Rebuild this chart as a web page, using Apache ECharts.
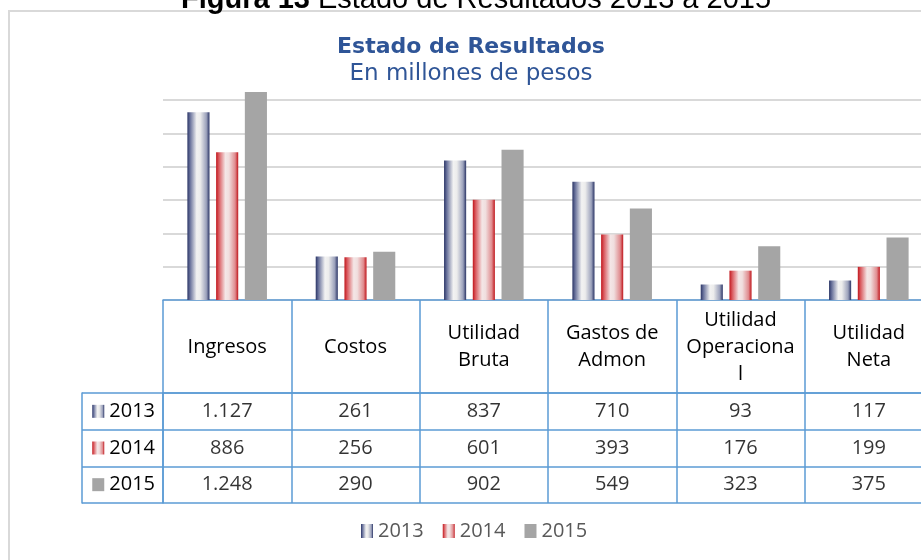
<!DOCTYPE html>
<html>
<head>
<meta charset="utf-8">
<script src="https://cdn.jsdelivr.net/npm/echarts@6/dist/echarts.min.js"></script>
<style>
  html, body { margin: 0; padding: 0; background: #fff; }
  #chart { width: 921px; height: 560px; }
</style>
</head>
<body>
<div id="chart"></div>
<script>
// data (millones de pesos)
const categories = ['Ingresos', 'Costos', 'Utilidad\nBruta', 'Gastos de\nAdmon', 'Utilidad\nOperaciona\nl', 'Utilidad\nNeta']
const years = ['2013', '2014', '2015']
const values2013 = [1127, 261, 837, 710, 93, 117]
const values2014 = [886, 256, 601, 393, 176, 199]
const values2015 = [1248, 290, 902, 549, 323, 375]
const yTicks = [0, 200, 400, 600, 800, 1000, 1200]

const tableBlue = '#5B9BD5'
const font = 'Open Sans'

function grad(stops) {
  return new echarts.graphic.LinearGradient(0, 0, 1, 0,
    stops.map(([offset, color]) => ({ offset, color })))
}

const navy = grad([[0, '#2B3566'], [0.12, '#67709A'], [0.42, '#F2F2F2'], [0.58, '#ECECEC'], [0.86, '#9BA1BB'], [1, '#2B3566']])
const red = grad([[0, '#C0161C'], [0.12, '#D9575C'], [0.42, '#F4E6E6'], [0.58, '#F0DEDE'], [0.86, '#E08C8F'], [1, '#C0161C']])
const gray = '#A5A5A5'
const colors = [navy, red, gray]
const seriesValues = [values2013, values2014, values2015]

// 1127 -> "1.127"
function fmt(v) {
  return v >= 1000 ? Math.floor(v / 1000) + '.' + String(v % 1000).padStart(3, '0') : String(v)
}

const tableCells = []
seriesValues.forEach((vals, r) => {
  vals.forEach((v, c) => tableCells.push([c, r, v]))
})

const chart = echarts.init(document.getElementById('chart'))

const option = {
  animation: false,
  backgroundColor: '#fff',
  graphic: [
    {
      type: 'rect',
      silent: true,
      z: -10,
      shape: { x: 9, y: 11, width: 1000, height: 700 },
      style: { fill: 'none', stroke: '#D9D9D9', lineWidth: 2 },
    },
    {
      type: 'text',
      silent: true,
      x: 476,
      y: 14,
      style: {
        text: '{b|Figura 13} Estado de Resultados 2013 a 2015',
        rich: { b: { fontWeight: 'bold', fontSize: 29, fontFamily: 'Liberation Sans', fill: '#000' } },
        fontSize: 29,
        fontFamily: 'Liberation Sans',
        fill: '#000',
        align: 'center',
        verticalAlign: 'bottom',
      },
    },
  ],
  title: {
    text: 'Estado de Resultados',
    subtext: 'En millones de pesos',
    left: 466,
    top: 31,
    textAlign: 'center',
    itemGap: 5,
    textStyle: { fontFamily: 'DejaVu Sans', fontWeight: 'bold', fontSize: 22, color: '#2F5597' },
    subtextStyle: { fontFamily: 'DejaVu Sans', fontSize: 23, color: '#2F5597' },
  },
  legend: {
    data: years,
    left: 356,
    top: 516,
    icon: 'rect',
    itemWidth: 12,
    itemHeight: 14,
    itemGap: 19,
    selectedMode: false,
    textStyle: { fontFamily: font, fontSize: 20, color: '#595959' },
  },
  grid: [
    { left: 163, top: 100, width: 770, height: 200, outerBoundsMode: 'none' },
    { left: 163, top: 393, width: 770, height: 110, outerBoundsMode: 'none' },
  ],
  xAxis: [
    {
      type: 'category',
      gridIndex: 0,
      data: categories,
      axisLine: { lineStyle: { color: tableBlue, width: 1.5 } },
      axisTick: { show: false },
      axisLabel: { show: false },
    },
    {
      type: 'category',
      gridIndex: 1,
      position: 'top',
      data: categories,
      axisLine: { lineStyle: { color: tableBlue, width: 1.5 } },
      axisTick: { show: true, length: 93, lineStyle: { color: tableBlue, width: 1.5 } },
      axisLabel: {
        interval: 0,
        margin: 46,
        verticalAlign: 'middle',
        lineHeight: 27,
        fontFamily: font,
        fontSize: 20,
        color: '#000',
      },
      splitLine: { show: true, lineStyle: { color: tableBlue, width: 1.5 } },
    },
  ],
  yAxis: [
    {
      type: 'value',
      gridIndex: 0,
      min: yTicks[0],
      max: yTicks[yTicks.length - 1],
      interval: yTicks[1] - yTicks[0],
      axisLine: { show: false },
      axisTick: { show: false },
      axisLabel: { show: false },
      splitLine: { lineStyle: { color: '#D9D9D9', width: 2 } },
    },
    {
      type: 'category',
      gridIndex: 1,
      inverse: true,
      data: years,
      axisLine: { show: true, lineStyle: { color: tableBlue, width: 1.5 } },
      axisTick: { show: true, length: 81, lineStyle: { color: tableBlue, width: 1.5 } },
      axisLabel: {
        margin: 8,
        fontFamily: font,
        fontSize: 20,
        color: '#000',
        formatter: (v, i) => `{i${i}|}{t|${v}}`,
        rich: {
          i0: { width: 12, height: 13, backgroundColor: navy },
          i1: { width: 12, height: 13, backgroundColor: red },
          i2: { width: 12, height: 13, backgroundColor: gray },
          t: { fontFamily: font, fontSize: 20, color: '#000', padding: [0, 0, 0, 5] },
        },
      },
      splitLine: { show: true, lineStyle: { color: tableBlue, width: 1.5 } },
    },
    {
      type: 'category',
      gridIndex: 1,
      position: 'left',
      offset: 81,
      data: years,
      axisLine: { show: true, lineStyle: { color: tableBlue, width: 1.5 } },
      axisTick: { show: false },
      axisLabel: { show: false },
    },
  ],
  series: [
    ...years.map((y, i) => ({
      name: y,
      type: 'bar',
      xAxisIndex: 0,
      yAxisIndex: 0,
      data: seriesValues[i],
      clip: false,
      barGap: '30%',
      barCategoryGap: '38%',
      itemStyle: { color: colors[i] },
    })),
    {
      name: 'tabla',
      type: 'scatter',
      xAxisIndex: 1,
      yAxisIndex: 1,
      silent: true,
      symbolSize: 1,
      itemStyle: { color: 'rgba(0,0,0,0)' },
      label: {
        show: true,
        position: 'inside',
        formatter: p => fmt(p.value[2]),
        fontFamily: font,
        fontSize: 20,
        color: '#000',
      },
      data: tableCells,
    },
  ],
}

chart.setOption(option)
</script>
</body>
</html>
